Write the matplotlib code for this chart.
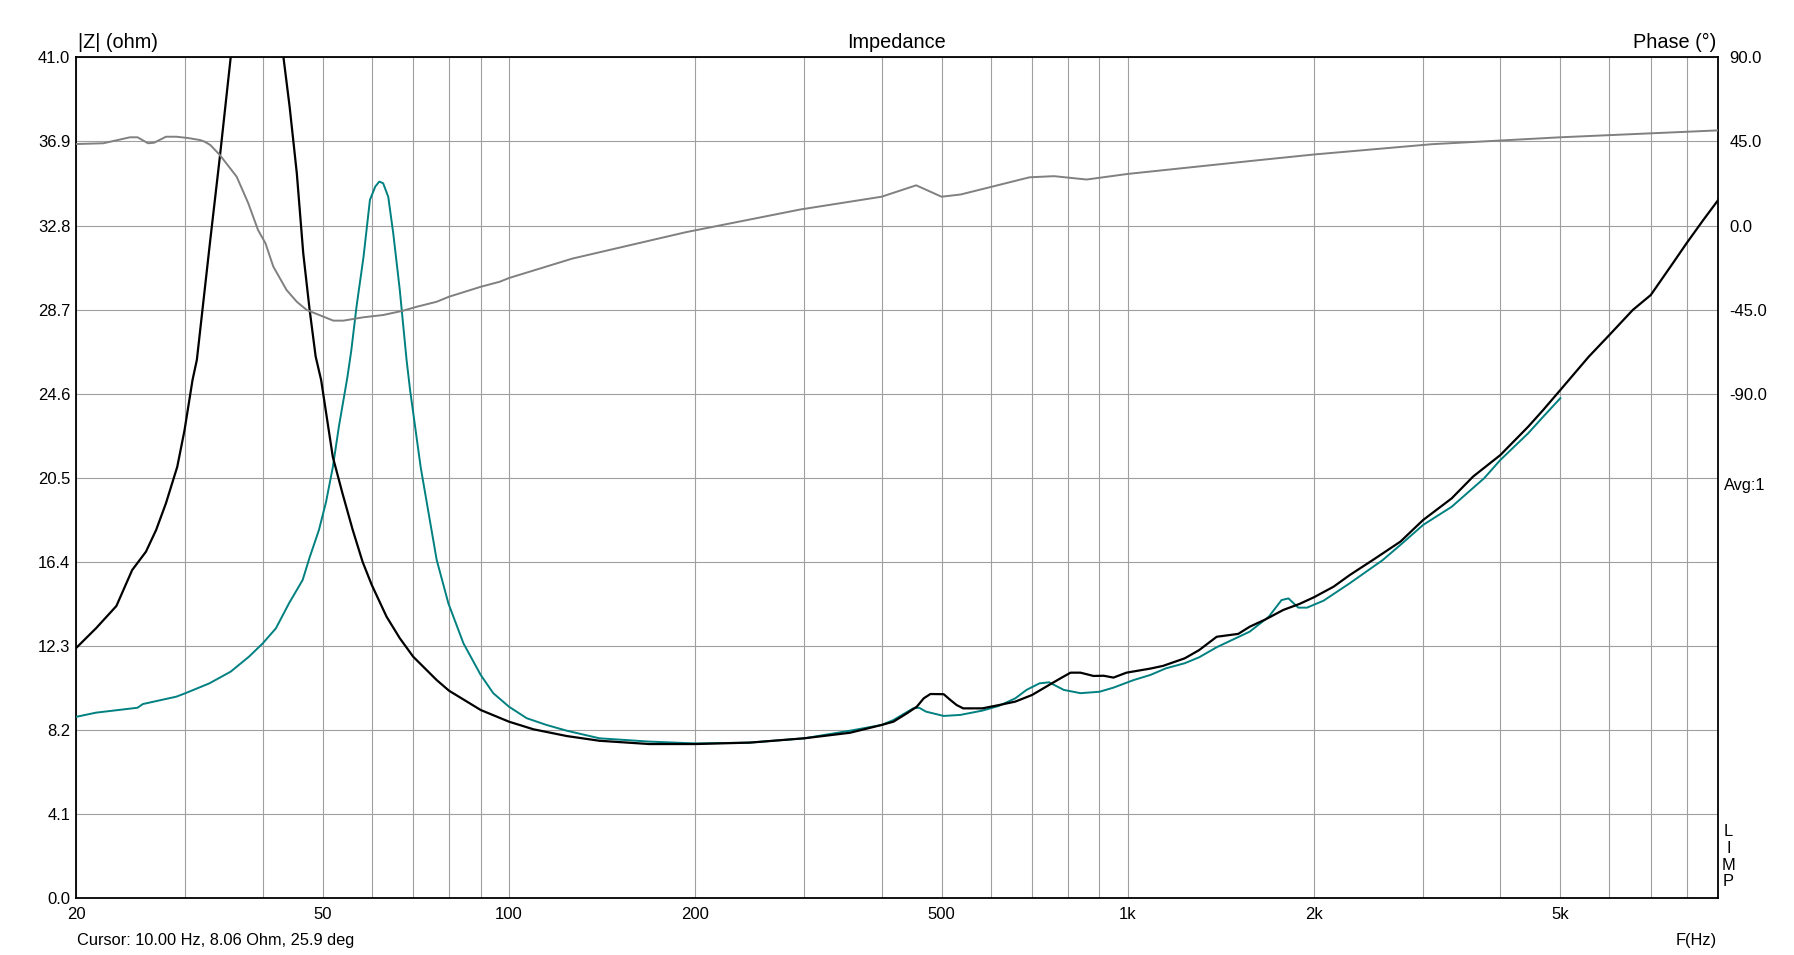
import numpy as np
import matplotlib
matplotlib.use("Agg")
import matplotlib.pyplot as plt

plt.rcParams["font.family"] = ["Liberation Sans", "DejaVu Sans"]

# black impedance trace (Hz, ohm)
BLACK_F = [20, 21.5, 23.2, 24.6, 25.9, 26.9, 27.9, 29.1, 29.9, 30.8, 31.3, 32.9, 34.1, 35.5,
           37.0, 39.0, 40.5, 42.0, 43.2, 44.2, 45.4, 46.5, 47.6, 48.7, 49.7, 51.9, 53.8, 55.9,
           58.0, 60, 63.4, 66.6, 70, 76.4, 80, 90, 100, 109.5, 124, 140, 168.6, 200, 245, 300,
           355.6, 400, 418, 439.6, 456, 468, 479.7, 504, 516.6, 529, 542, 582, 619, 658, 700,
           746, 779, 808, 838.6, 880, 914, 948, 995, 1088, 1140, 1236, 1304, 1392, 1508, 1574,
           1670, 1784, 1894, 2000, 2150, 2284, 2488, 2758, 3000, 3338, 3614, 4000, 4436, 4692,
           5000, 5560, 6000, 6546, 7000, 7600, 8000, 8512, 9000]
BLACK_Z = [12.22, 13.16, 14.25, 16.0, 16.9, 17.96, 19.26, 21.04, 22.83, 25.27, 26.25, 32.09, 36.16, 41.0,
           47, 53, 52, 46, 41.0, 38.6, 35.35, 31.45, 28.73, 26.41, 25.27, 21.53, 19.75, 17.96,
           16.4, 15.28, 13.73, 12.68, 11.78, 10.64, 10.12, 9.18, 8.61, 8.24, 7.91, 7.68, 7.52, 7.52, 7.59, 7.8,
           8.07, 8.45, 8.61, 9.02, 9.34, 9.75, 9.96, 9.95, 9.67, 9.42, 9.26, 9.26, 9.42, 9.59, 9.91,
           10.4, 10.73, 11.0, 11.0, 10.84, 10.85, 10.76, 11.0, 11.2, 11.33, 11.7, 12.1, 12.75, 12.89, 13.24,
           13.6, 14.06, 14.35, 14.68, 15.19, 15.76, 16.49, 17.39, 18.44, 19.5, 20.56, 21.61, 22.99, 23.81,
           24.78, 26.41, 27.46, 28.68, 29.41, 30.96, 31.94, 33.07, 34.05]

# teal impedance trace (Hz, ohm)
TEAL_F = [20, 21.5, 25.1, 25.6, 29, 30, 32.8, 35.5, 38, 40, 42, 44.1, 46.4, 47.6, 49.3, 50.6,
          51.9, 53.1, 54.8, 55.6, 56.7, 58.2, 59.6, 60.8, 61.7, 62.6, 63.8, 65, 66.6, 68.3, 69.2,
          72, 76.4, 79.8, 84.4, 90, 94.3, 100, 106.8, 115, 124, 140, 168.6, 200, 245, 300, 355.6,
          400, 418, 450, 460, 472, 504, 536, 582, 619, 658, 686, 720, 746, 788, 838.6, 900, 948,
          1022, 1088, 1152, 1236, 1304, 1392, 1574, 1690, 1772, 1818, 1886, 1948, 2072, 2284,
          2582, 2758, 3000, 3338, 3766, 4000, 4436, 4692, 5000]
TEAL_Z = [8.85, 9.05, 9.29, 9.47, 9.83, 10.0, 10.48, 11.05, 11.78, 12.43, 13.16, 14.38, 15.52, 16.6, 17.96, 19.3,
          21.0, 23.0, 25.4, 26.7, 28.85, 31.28, 34.05, 34.7, 34.94, 34.86, 34.2, 32.42, 29.66, 26.25, 24.78,
          21.0, 16.5, 14.38, 12.43, 10.89, 10.0, 9.34, 8.78, 8.45, 8.17, 7.8, 7.64, 7.55, 7.59, 7.8, 8.17,
          8.45, 8.69, 9.26, 9.29, 9.1, 8.89, 8.94, 9.15, 9.38, 9.75, 10.16, 10.48, 10.53, 10.16, 10.0, 10.07, 10.27,
          10.64, 10.89, 11.21, 11.46, 11.75, 12.24, 13.0, 13.73, 14.54, 14.62, 14.17, 14.17, 14.51, 15.36,
          16.49, 17.23, 18.2, 19.09, 20.48, 21.37, 22.67, 23.48, 24.38]

# gray phase trace (Hz, deg)
PHASE_F = [20, 22.1, 24.4, 25.1, 26.1, 26.7, 27.9, 29.0, 30.3, 31.7, 32.2, 32.9, 34.1, 36.3, 37.9,
           39.3, 40.4, 41.6, 43.7, 45.4, 47.1, 49.8, 52, 54, 58.2, 62.6, 67.4, 70.9, 76.4, 80, 90,
           96.6, 100, 126.6, 193, 296, 400, 455, 500, 537, 694, 760, 858, 1000, 1620, 2000, 3100,
           5000, 9000]
PHASE_DEG = [43.6, 44.0, 47.2, 47.2, 44.0, 44.3, 47.5, 47.5, 46.8, 45.7, 44.9, 43.1, 37.7, 26.1, 11.9,
             -2.4, -9.5, -22.0, -34.5, -40.8, -45.2, -48.4, -50.9, -50.9, -49.1, -47.9, -45.6, -43.5, -40.8, -38.1, -32.8,
             -30.1, -28.1, -17.7, -3.6, 8.6, 15.4, 21.5, 15.4, 16.6, 25.8, 26.4, 24.6, 27.6, 34.9, 38.0, 43.5,
             47.2, 50.9]

Z_TICKS = [0.0, 4.1, 8.2, 12.3, 16.4, 20.5, 24.6, 28.7, 32.8, 36.9, 41.0]
PHASE_TICKS = [90, 45, 0, -45, -90]
F_MAJOR = [20, 50, 100, 200, 500, 1000, 2000, 5000]
F_LABELS = ["20", "50", "100", "200", "500", "1k", "2k", "5k"]
F_MINOR = [30, 40, 60, 70, 80, 90, 300, 400, 600, 700, 800, 900,
           3000, 4000, 6000, 7000, 8000]

GRID = "#a0a0a0"

fig = plt.figure(figsize=(17.94, 9.55), dpi=100)
ax = fig.add_axes([0.04264, 0.05937, 0.91516, 0.88063])

ax.plot(TEAL_F, TEAL_Z, color="#008080", lw=1.4, zorder=3)
ax.plot(BLACK_F, BLACK_Z, color="black", lw=1.6, zorder=4)

ax.set_xscale("log")
ax.set_xlim(20, 9000)
ax.set_ylim(0, 41)
ax.set_xticks(F_MAJOR)
ax.set_xticklabels(F_LABELS)
ax.set_xticks(F_MINOR, minor=True)
ax.set_xticklabels([], minor=True)
ax.set_yticks(Z_TICKS)
ax.set_yticklabels([f"{v:.1f}" for v in Z_TICKS])
ax.grid(which="both", color=GRID, lw=0.8)
ax.set_axisbelow(True)
ax.tick_params(which="both", length=0, labelsize=12)
ax.tick_params(axis="y", pad=4.5)
ax.tick_params(axis="x", pad=6.5)
for sp in ax.spines.values():
    sp.set_linewidth(1.3)
    sp.set_color("black")

ax2 = ax.twinx()
ax2.plot(PHASE_F, PHASE_DEG, color="#808080", lw=1.4, zorder=3)
ax2.set_ylim(-360, 90)
ax2.set_yticks(PHASE_TICKS)
ax2.set_yticklabels([f"{v:.1f}" for v in PHASE_TICKS])
ax2.tick_params(length=0, labelsize=12, pad=8)
for sp in ax2.spines.values():
    sp.set_visible(False)

fig.text(0.0434, 0.9557, "|Z| (ohm)", ha="left", va="center", fontsize=14.3)
fig.text(0.4995, 0.9557, "Impedance", ha="center", va="center", fontsize=14.3)
fig.text(0.9565, 0.9557, "Phase (°)", ha="right", va="center", fontsize=14.3)
fig.text(0.0427, 0.0152, "Cursor: 10.00 Hz, 8.06 Ohm, 25.9 deg", ha="left", va="center", fontsize=11.8)
fig.text(0.9569, 0.0152, "F(Hz)", ha="right", va="center", fontsize=11.8)
fig.text(0.961, 0.4911, "Avg:1", ha="left", va="center", fontsize=11.8)
for ch, yy in zip("LIMP", [0.1291, 0.1120, 0.0942, 0.0770]):
    fig.text(0.9634, yy, ch, ha="center", va="center", fontsize=11.8)

fig.savefig("out.png", dpi=100)
